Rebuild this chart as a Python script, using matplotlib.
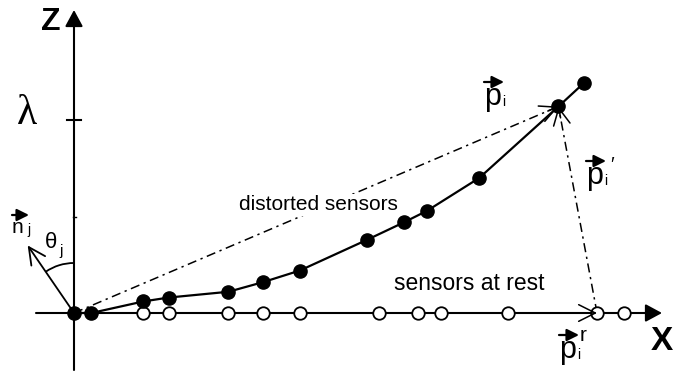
import numpy as np
import matplotlib.pyplot as plt
from matplotlib.patches import Arc

plt.rcParams['font.family'] = ['Liberation Sans', 'DejaVu Sans']

# sensor positions, in units of lambda
distorted_x = [0.00, 0.09, 0.36, 0.49, 0.80, 0.98, 1.17, 1.52, 1.71, 1.83, 2.10, 2.51, 2.64]
distorted_z = [0.00, 0.00, 0.06, 0.08, 0.11, 0.16, 0.22, 0.38, 0.47, 0.53, 0.70, 1.07, 1.19]
rest_x = [0.36, 0.49, 0.80, 0.98, 1.17, 1.58, 1.78, 1.90, 2.25, 2.71, 2.85]
i_sel = 11      # distorted sensor p_i
r_sel = 9       # rest position p_i^r of the same sensor
lam = 1.0
normal_tip = (-0.24, 0.35)

px = 1 / 193.0  # one screen pixel in data units

fig = plt.figure(figsize=(6.87, 3.74), dpi=100)
ax = fig.add_axes([0, 0, 1, 1])
ax.set_xlim(-74 * px, 613 * px)
ax.set_ylim(-61 * px, 313 * px)
ax.axis('off')

axis_arrow = dict(arrowstyle='-|>,head_length=0.5,head_width=0.27', lw=1.5,
                  color='black', shrinkA=0, shrinkB=0, mutation_scale=20)
open_head = dict(arrowstyle='->,head_length=0.6,head_width=0.3', lw=1.1,
                 color='black', shrinkA=0, shrinkB=0, mutation_scale=20)

# axes
ax.annotate('', xy=(0, 303 * px), xytext=(0, -57 * px), arrowprops=axis_arrow)
ax.annotate('', xy=(588 * px, 0), xytext=(-38 * px, 0), arrowprops=axis_arrow)
ax.plot([-7 * px, 7 * px], [lam, lam], color='black', lw=1.5)
ax.plot([-1.5 * px, 1.5 * px], [lam / 2, lam / 2], color='black', lw=1.0)

ax.text(-23 * px, 291 * px, 'Z', fontsize=23, fontweight='bold', ha='center', va='center')
ax.text(588 * px, -29 * px, 'X', fontsize=24, fontweight='bold', ha='center', va='center')
ax.text(-47 * px, 1.03, '\u03bb', fontsize=30, ha='center', va='center',
        family='Liberation Serif')

# distorted sensors along the bent array
ax.plot(distorted_x, distorted_z, '-', color='black', lw=1.6, zorder=3)
ax.plot(distorted_x, distorted_z, 'o', color='black', ms=9.5, zorder=5)

# sensors at rest on the x axis
ax.plot(rest_x, np.zeros(len(rest_x)), 'o', mfc='white', mec='black', ms=9,
        mew=1.3, zorder=4)

# displacement vectors
pi = np.array([distorted_x[i_sel], distorted_z[i_sel]])
pr = np.array([rest_x[r_sel], 0.0])
dash = (0, (6, 3, 1.5, 3))
for start in [np.zeros(2), pr]:
    ax.plot([start[0], pi[0]], [start[1], pi[1]], ls=dash, lw=1.1, color='black', zorder=2)
    d = (pi - start) / np.linalg.norm(pi - start)
    ax.annotate('', xy=pi, xytext=pi - 0.06 * d, arrowprops=open_head, zorder=4)
ax.annotate('', xy=pr, xytext=pr - np.array([0.06, 0]), arrowprops=open_head, zorder=6)

# normal vector and its angle to the z axis
ax.annotate('', xy=normal_tip, xytext=(0, 0),
            arrowprops=dict(open_head, lw=1.3), zorder=3)
theta = np.degrees(np.arctan2(-normal_tip[0], normal_tip[1]))
r = 50 * px
ax.add_patch(Arc((0, 0), 2 * r, 2 * r, theta1=90, theta2=90 + theta, lw=1.3, color='black'))


def vec_label(x, y, letter, size=22, width=20, lift=23, sub=None, sup=None, prime=False):
    ax.text(x, y, letter, fontsize=size, ha='left', va='baseline')
    ax.annotate('', xy=(x + width * px, y + lift * px), xytext=(x, y + lift * px),
                arrowprops=dict(arrowstyle='-|>,head_length=0.6,head_width=0.3', lw=1.6,
                                color='black', shrinkA=0, shrinkB=0, mutation_scale=12))
    if sub:
        ax.text(x + (width - 2) * px, y - 1 * px, sub, fontsize=10, ha='left', va='baseline')
    if sup:
        ax.text(x + (width + 1) * px, y + 17 * px, sup, fontsize=15, ha='left', va='baseline')
    if prime:
        ax.text(x + (width + 4) * px, y + 14 * px, "\u2032", fontsize=14, ha='left', va='baseline')


vec_label(410 * px, 208 * px, 'p', sub='i')
vec_label(512 * px, 129 * px, 'p', sub='i', prime=True)
vec_label(485 * px, -45 * px, 'p', sub='i', sup='r')
vec_label(-62 * px, 80 * px, 'n', size=15, width=17, lift=18, sub='j')

ax.text(-29 * px, 65 * px, '\u03b8', fontsize=16, ha='left', va='baseline')
ax.text(-15 * px, 58 * px, 'j', fontsize=11, ha='left', va='baseline')

ax.text(1.264, 0.56, 'distorted sensors', fontsize=15, ha='center', va='center',
        bbox=dict(facecolor='white', edgecolor='none', pad=1), zorder=3)
ax.text(2.047, 0.155, 'sensors at rest', fontsize=16.5, ha='center', va='center')

fig.savefig('out.png', dpi=100, facecolor='white')
